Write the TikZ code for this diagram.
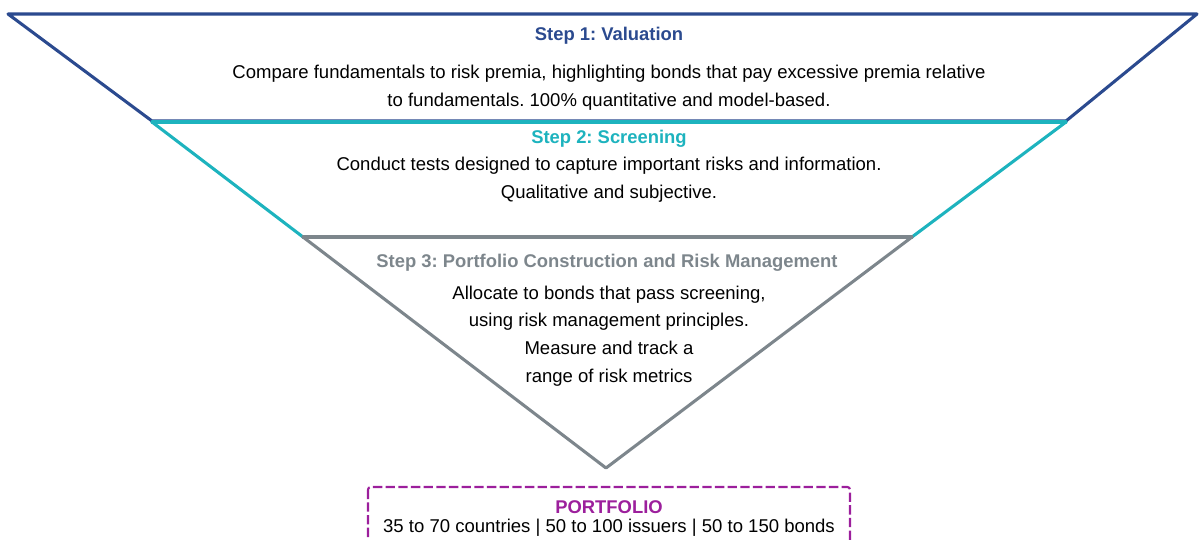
\documentclass[tikz,border=0pt]{standalone}
\usepackage{fontspec}
\setmainfont{Liberation Sans}
\frenchspacing
\definecolor{valblue}{HTML}{2B4A8F}
\definecolor{scrcyan}{HTML}{1DB3BE}
\definecolor{pcgray}{HTML}{7D868C}
\definecolor{portpurple}{HTML}{9C1F9C}
\tikzset{
  funnel/.style={line width=2.3pt,line cap=round,line join=round},
  steptitle/.style={font=\fontsize{13.8}{16}\selectfont\bfseries,inner sep=0pt},
  stepbody/.style={font=\fontsize{13.9}{20.8}\selectfont,align=center,inner sep=0pt},
}
\begin{document}
\begin{tikzpicture}[x=0.75pt,y=-0.75pt]
        \useasboundingbox (0,0) rectangle (1199,539);
        \clip (0,0) rectangle (1199,539);

        % draw the three funnel stages, bottom first so the upper edges lie on top
        \draw[funnel,pcgray] (303,237) -- (912,237) -- (606,468) -- cycle;
        \draw[funnel,scrcyan] (152,122) -- (1066,122) -- (912,237) -- (303,237) -- cycle;
        \draw[funnel,valblue] (8,14) -- (1197,14) -- (1066,121) -- (152,121) -- cycle;
        \draw[funnel,scrcyan] (152,122) -- (1066,122);
        \draw[funnel,pcgray] (303,237) -- (912,237);

        % step 1
        \node[steptitle,text=valblue] (val) at (609,36) {Step 1: Valuation};
        \node[stepbody] (valtext) at (609,88)
            {Compare fundamentals to risk premia, highlighting bonds that pay excessive premia relative\\
             to fundamentals. 100\% quantitative and model-based.};

        % step 2
        \node[steptitle,text=scrcyan] (scr) at (609,139) {Step 2: Screening};
        \node[stepbody] (scrtext) at (609,180)
            {Conduct tests designed to capture important risks and information.\\
             Qualitative and subjective.};

        % step 3
        \node[steptitle,text=pcgray] (pc) at (607,263) {Step 3: Portfolio Construction and Risk Management};
        \node[stepbody] (pctext) at (609,336)
            {Allocate to bonds that pass screening,\\
             using risk management principles.\\
             Measure and track a\\
             range of risk metrics};

        % the resulting portfolio
        \draw[portpurple,line width=1.6pt,dash pattern=on 7pt off 2.5pt,rounded corners=2pt]
            (368,487) rectangle (850,560);
        \node[steptitle,text=portpurple] (port) at (609,507) {PORTFOLIO};
        \node[stepbody] (porttext) at (609,528) {35 to 70 countries | 50 to 100 issuers | 50 to 150 bonds};
\end{tikzpicture}
\end{document}
